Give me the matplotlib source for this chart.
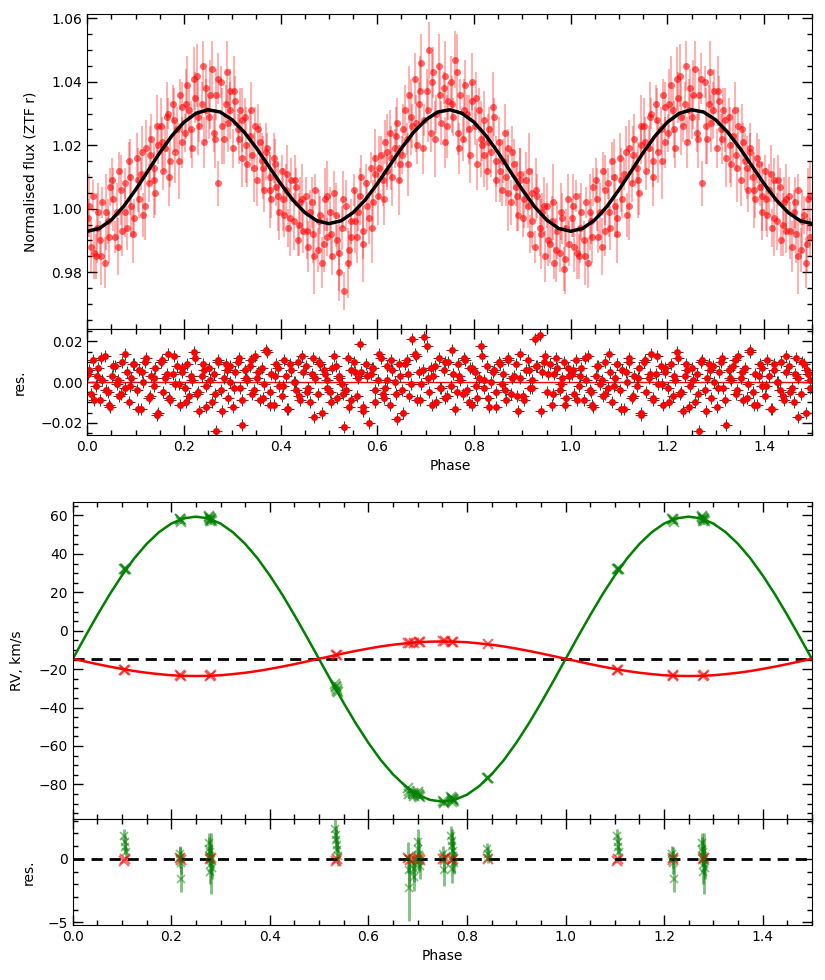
import numpy as np
import matplotlib.pyplot as plt
from matplotlib.ticker import MultipleLocator

# ---- light curve (ZTF r), phases 0..1, repeated up to 1.5 when drawn ----
lc_phase = [
    .002, .007, .012, .017, .022, .027, .031, .036, .042, .047,
    .052, .057, .061, .066, .072, .077, .082, .086, .091, .096,
    .102, .106, .111, .116, .121, .127, .132, .137, .141, .146,
    .152, .156, .161, .167, .171, .177, .181, .186, .191, .196,
    .202, .207, .211, .216, .222, .227, .232, .237, .241, .246,
    .252, .257, .262, .266, .271, .277, .282, .286, .291, .296,
    .302, .306, .311, .316, .321, .327, .331, .336, .341, .346,
    .352, .357, .361, .366, .371, .377, .381, .386, .391, .396,
    .402, .407, .411, .416, .421, .427, .432, .436, .441, .446,
    .452, .457, .461, .466, .471, .477, .482, .486, .491, .496,
    .502, .506, .511, .516, .521, .527, .531, .536, .541, .546,
    .552, .557, .561, .566, .571, .577, .582, .586, .591, .596,
    .602, .607, .611, .616, .621, .627, .631, .636, .641, .646,
    .652, .657, .661, .666, .671, .677, .682, .686, .691, .696,
    .702, .707, .711, .716, .721, .727, .732, .737, .741, .746,
    .752, .757, .761, .766, .771, .777, .782, .786, .791, .796,
    .802, .807, .811, .816, .821, .827, .831, .836, .841, .846,
    .852, .857, .861, .866, .871, .877, .882, .886, .891, .896,
    .902, .907, .911, .916, .921, .927, .931, .936, .941, .946,
    .952, .957, .961, .966, .971, .977, .982, .986, .991, .996,
    .004, .014, .020, .029, .039, .045, .054, .064, .070, .079,
    .089, .095, .104, .114, .120, .129, .139, .145, .154, .164,
    .170, .179, .189, .195, .204, .214, .220, .229, .239, .245,
    .254, .264, .270, .279, .289, .295, .304, .314, .320, .329,
    .339, .345, .354, .364, .370, .379, .389, .395, .404, .414,
    .420, .429, .439, .445, .454, .464, .470, .479, .489, .495,
    .504, .514, .520, .529, .539, .545, .554, .564, .570, .579,
    .589, .595, .604, .614, .620, .629, .639, .645, .654, .664,
    .670, .679, .689, .695, .704, .714, .720, .729, .739, .745,
    .754, .764, .770, .779, .789, .795, .804, .814, .820, .829,
    .839, .845, .854, .864, .870, .879, .889, .895, .904, .914,
    .920, .929, .939, .945, .954, .964, .970, .979, .989, .995,
]
lc_flux = [
    .997, .988, 1.004, .985, .999, .990, 1.002, .983, .996, 1.007,
    1.009, .991, .999, 1.012, .993, 1.008, .994, 1.015, 1.001, .997,
    1.016, 1.003, 1.011, .998, 1.019, 1.008, 1.022, 1.013, 1.005, 1.020,
    1.026, 1.012, 1.019, 1.030, 1.015, 1.033, 1.018, 1.025, 1.036, 1.021,
    1.024, 1.039, 1.031, 1.019, 1.035, 1.042, 1.026, 1.033, 1.021, 1.038,
    1.029, 1.044, 1.024, 1.036, 1.008, 1.040, 1.022, 1.033, 1.027, 1.037,
    1.019, 1.034, 1.025, 1.031, 1.016, 1.029, 1.014, 1.023, 1.017, 1.026,
    1.009, 1.021, 1.015, 1.006, 1.019, 1.010, 1.003, 1.016, 1.007, .999,
    1.012, .998, 1.006, .994, 1.009, .996, 1.007, .990, 1.002, .993,
    1.004, .988, .999, .992, 1.006, .987, .998, .983, 1.003, .991,
    .999, .985, 1.005, .990, .980, .994, .974, 1.001, .987, .996,
    1.006, .991, .999, 1.010, .993, 1.008, .997, 1.013, 1.002, 1.011,
    1.004, 1.017, 1.009, 1.021, 1.012, 1.024, 1.010, 1.019, 1.027, 1.014,
    1.017, 1.031, 1.022, 1.036, 1.026, 1.041, 1.020, 1.033, 1.046, 1.028,
    1.037, 1.050, 1.024, 1.043, 1.030, 1.045, 1.027, 1.038, 1.021, 1.034,
    1.040, 1.029, 1.047, 1.024, 1.036, 1.022, 1.039, 1.030, 1.017, 1.034,
    1.026, 1.014, 1.031, 1.020, 1.028, 1.012, 1.025, 1.018, 1.029, 1.009,
    1.021, 1.006, 1.015, 1.010, 1.019, 1.002, 1.014, 1.007, .998, 1.011,
    .997, 1.009, 1.001, .992, 1.005, .988, 1.004, .994, .999, .985,
    1.001, .989, .996, .983, .993, .986, .997, .981, .994, .989,
    1.001, .986, .994, .985, .999, .991, 1.003, .988, 1.006, .999,
    1.010, .992, 1.009, 1.018, 1.001, 1.017, 1.009, 1.026, 1.021, 1.029,
    1.010, 1.028, 1.015, 1.032, 1.033, 1.025, 1.041, 1.029, 1.045, 1.031,
    1.036, 1.022, 1.041, 1.026, 1.043, 1.031, 1.037, 1.022, 1.028, 1.020,
    1.031, 1.013, 1.025, 1.013, 1.018, 1.006, 1.014, 1.004, 1.003, 1.011,
    .997, 1.009, .995, 1.003, .993, 1.002, .985, .996, .989, 1.004,
    .992, .998, .986, 1.003, .983, .991, .996, 1.004, .989, 1.001,
    .994, 1.016, 1.013, 1.003, 1.018, 1.016, 1.023, 1.009, 1.025, 1.014,
    1.029, 1.027, 1.037, 1.019, 1.031, 1.040, 1.022, 1.036, 1.042, 1.026,
    1.033, 1.043, 1.019, 1.031, 1.025, 1.040, 1.035, 1.022, 1.017, 1.021,
    1.032, 1.015, 1.012, 1.024, 1.005, 1.018, 1.004, 1.009, 1.003, 1.012,
    .996, 1.006, .992, 1.001, .990, 1.002, .987, .999, .984, 1.003,
]
lc_err = [
    .006, .008, .005, .007, .009, .006, .005, .008, .007, .006,
    .007, .005, .009, .006, .008, .005, .007, .006, .010, .006,
    .008, .006, .005, .007, .009, .006, .008, .005, .007, .006,
    .009, .006, .007, .005, .008, .006, .010, .007, .005, .008,
    .006, .009, .007, .006, .008, .010, .005, .007, .008, .006,
    .007, .009, .006, .008, .007, .005, .008, .006, .009, .007,
    .006, .008, .005, .007, .009, .006, .007, .008, .005, .006,
    .008, .006, .009, .007, .005, .007, .006, .008, .006, .009,
    .005, .007, .008, .006, .007, .009, .006, .005, .008, .007,
    .006, .008, .007, .009, .005, .007, .006, .008, .010, .006,
    .008, .006, .007, .005, .009, .007, .006, .008, .006, .007,
    .005, .008, .006, .007, .009, .006, .008, .005, .007, .006,
    .009, .006, .008, .007, .005, .007, .009, .006, .008, .006,
    .006, .008, .005, .009, .007, .008, .006, .007, .009, .005,
    .007, .009, .006, .008, .006, .010, .007, .005, .008, .006,
    .008, .006, .009, .007, .005, .007, .008, .006, .009, .006,
    .006, .008, .007, .005, .009, .006, .007, .008, .006, .007,
    .008, .005, .007, .009, .006, .007, .008, .006, .005, .008,
    .006, .009, .007, .006, .008, .005, .007, .009, .006, .008,
    .007, .006, .008, .005, .009, .006, .008, .007, .006, .007,
    .010, .008, .011, .009, .012, .008, .010, .009, .011, .008,
    .012, .009, .010, .008, .011, .009, .012, .010, .008, .011,
    .009, .010, .012, .008, .011, .009, .010, .012, .008, .010,
    .011, .009, .008, .012, .010, .009, .011, .008, .010, .012,
    .009, .011, .008, .010, .009, .012, .008, .011, .010, .009,
    .012, .008, .010, .011, .009, .008, .012, .010, .009, .011,
    .008, .010, .012, .009, .011, .008, .010, .009, .012, .008,
    .011, .009, .010, .008, .012, .010, .009, .011, .008, .010,
    .012, .009, .011, .008, .010, .009, .012, .008, .011, .010,
    .009, .012, .008, .010, .011, .009, .008, .012, .010, .009,
    .011, .008, .010, .009, .012, .008, .011, .010, .009, .012,
    .008, .010, .011, .009, .008, .012, .010, .009, .011, .008,
]
lc_res = [
    .004, -.006, .011, -.002, .007, -.009, .001, .013, -.005, -.012,
    .003, .008, -.001, -.007, .010, -.003, .005, -.010, .002, .009,
    -.004, .006, -.013, .000, .012, -.008, .003, -.002, .007, -.015,
    .010, -.005, .002, .014, -.009, .004, -.001, .008, -.011, .005,
    -.003, .009, -.007, .001, .012, -.006, -.014, .003, .006, -.002,
    .007, -.010, .004, -.024, .011, -.004, .002, .009, -.008, .000,
    -.012, .005, .010, -.003, -.021, .006, .001, .008, -.006, .013,
    .002, -.009, .007, -.001, .015, -.005, .004, -.011, .009, -.002,
    -.007, .011, .003, -.013, .006, .000, -.004, .010, -.009, .005,
    .008, -.003, -.010, .012, .002, -.006, .009, -.015, .004, .001,
    -.005, .007, .013, -.008, .003, -.001, -.022, -.004, -.012, .006,
    .010, -.007, .002, .005, -.014, .009, -.020, .004, .007, -.010,
    .001, .012, -.006, -.003, .008, -.011, .006, .000, -.018, .003,
    -.004, .009, .011, -.007, .021, .014, -.009, .005, -.001, .022,
    .018, -.005, .007, .003, -.010, .012, -.003, .006, -.008, .010,
    -.002, .004, -.013, .009, .001, -.006, .011, -.004, .007, -.011,
    .005, -.008, .002, .013, -.003, .008, -.012, .000, .006, -.005,
    .010, -.001, .004, -.009, .012, -.006, .003, .009, -.014, .002,
    -.007, .006, .011, -.003, .001, .021, .008, .023, .005, .013,
    -.005, .009, -.011, .004, .007, -.004, .002, .010, -.008, .003,
    .006, -.009, .003, .012, -.004, -.011, .008, .001, -.006, .014,
    -.002, .009, -.013, .005, .010, -.007, .002, -.016, .011, .004,
    -.008, .013, -.001, .007, -.010, .003, .015, -.005, .009, -.012,
    .001, -.006, .010, -.014, .006, .008, -.003, .012, -.009, .002,
    .011, -.004, .005, -.008, .016, -.011, .003, .007, -.002, -.013,
    .009, .000, -.007, .013, -.005, .004, -.017, .010, .006, -.003,
    -.010, .008, .002, -.006, .012, -.009, .005, .019, -.012, .003,
    .007, -.004, .014, -.008, .001, .011, -.006, .009, -.015, .004,
    -.001, .013, -.009, .006, .002, -.011, .008, -.003, .010, -.007,
    .016, -.005, .003, .012, -.010, .007, -.002, .018, .001, -.008,
    .005, -.012, .009, -.004, .011, .002, -.007, .014, -.009, .006,
    -.003, .008, -.014, .010, .004, -.006, .012, -.001, -.011, .007,
]

# light-curve model, read at 0.025 steps over one cycle
lc_model_phase = [i * 0.025 for i in range(41)]
lc_model_flux = [
    .9929, .9938, .9965, 1.0007, 1.0060, 1.0118, 1.0177, 1.0230, 1.0273, 1.0301,
    1.0312, 1.0305, 1.0280, 1.0241, 1.0191, 1.0135, 1.0079, 1.0028, .9988, .9962,
    .9953, .9962, .9988, 1.0028, 1.0079, 1.0135, 1.0191, 1.0241, 1.0280, 1.0305,
    1.0312, 1.0301, 1.0273, 1.0230, 1.0177, 1.0118, 1.0060, 1.0007, .9965, .9938,
    .9929,
]

# ---- radial velocities ----
rv_gamma = -14.6
rv_model_phase = [i * 0.025 for i in range(41)]
rv_model_green = [
    -14.8, -3.2, 8.1, 18.9, 28.8, 37.7, 45.2, 51.3, 55.8, 58.5,
    59.4, 58.5, 55.8, 51.3, 45.2, 37.7, 28.8, 18.9, 8.1, -3.2,
    -14.8, -26.4, -37.7, -48.5, -58.4, -67.3, -74.8, -80.9, -85.4, -88.1,
    -89.0, -88.1, -85.4, -80.9, -74.8, -67.3, -58.4, -48.5, -37.7, -26.4,
    -14.8,
]
rv_model_red = [
    -14.6, -16.0, -17.4, -18.7, -19.9, -21.0, -21.9, -22.6, -23.2, -23.5,
    -23.6, -23.5, -23.2, -22.6, -21.9, -21.0, -19.9, -18.7, -17.4, -16.0,
    -14.6, -13.2, -11.8, -10.5, -9.3, -8.2, -7.3, -6.6, -6.0, -5.7,
    -5.6, -5.7, -6.0, -6.6, -7.3, -8.2, -9.3, -10.5, -11.8, -13.2,
    -14.6,
]

green_phase = [
    .104, .106, .107, .108, .217, .218, .219, .220,
    .276, .277, .278, .279, .280, .281, .282, .279,
    .533, .534, .535, .536, .537, .538, .681, .682, .683,
    .691, .692, .693, .700, .701, .702, .703, .704,
    .752, .753, .754, .768, .769, .770, .771, .772, .773, .770,
    .841, .842, .843,
]
green_rv = [
    32.1, 32.3, 32.3, 32.3, 58.2, 58.0, 57.7, 56.5,
    59.6, 59.1, 58.7, 58.3, 58.0, 57.6, 57.2, 57.1,
    -27.8, -28.6, -29.5, -30.3, -31.2, -32.1, -81.9, -83.3, -84.9,
    -84.3, -85.0, -85.9, -84.1, -84.8, -85.5, -86.1, -86.7,
    -88.6, -89.2, -89.9, -86.7, -87.1, -87.4, -87.8, -88.1, -88.5, -89.2,
    -76.5, -76.6, -76.5,
]
green_err = [
    .5, .6, .5, .4, .6, .8, .9, 1.0,
    .8, .9, 1.0, .8, 1.1, 2.4, .9, 1.0,
    .9, .7, .8, .6, .7, .8, 1.2, 1.3, 2.6,
    .9, 1.0, 1.1, 1.0, .9, 1.2, .8, 1.0,
    .6, .8, 1.2, .8, .9, 1.1, 1.0, 1.2, .9, 1.1,
    .4, .5, .4,
]
green_res = [
    1.8, 1.3, .9, .5, .4, .1, -.3, -1.6,
    1.2, .8, .5, .2, -.1, -.4, -.7, -1.0,
    2.3, 1.9, 1.5, 1.1, .7, .2, .1, -.9, -2.3,
    -.3, -.8, -1.4, 1.3, .8, .3, -.2, -.6,
    .4, -.2, -.9, 1.8, 1.4, 1.0, .6, .2, -.3, -.8,
    .8, .4, .1,
]

red_phase = [
    .105, .107, .218, .219, .278, .280, .535, .537, .681,
    .684, .692, .702, .704, .752, .755, .769, .771, .842,
]
red_rv = [
    -20.3, -20.2, -23.3, -23.5, -23.5, -23.3, -12.8, -12.5, -6.3,
    -6.4, -6.2, -5.9, -6.1, -5.6, -5.5, -5.8, -5.7, -7.1,
]
red_err = [.2] * len(red_phase)
red_res = [
    -.2, .0, .1, -.1, .0, .1, -.2, .0, .1,
    -.1, .0, .1, -.1, .0, .1, -.1, .0, .0,
]


def extend(phase, *cols):
    # show phases 0..1.5: repeat the first half cycle after phase 1
    phase = np.asarray(phase, dtype=float)
    keep = phase <= 0.5
    out = [np.concatenate([phase, phase[keep] + 1.0])]
    for c in cols:
        c = np.asarray(c, dtype=float)
        out.append(np.concatenate([c, c[keep]]))
    return out


def style(ax, xmaj, xmin, ymaj, ymin):
    ax.xaxis.set_major_locator(MultipleLocator(xmaj))
    ax.xaxis.set_minor_locator(MultipleLocator(xmin))
    ax.yaxis.set_major_locator(MultipleLocator(ymaj))
    ax.yaxis.set_minor_locator(MultipleLocator(ymin))
    ax.tick_params(which='both', direction='in', top=True, right=True, labelsize=10)
    ax.tick_params(which='major', length=7, width=1)
    ax.tick_params(which='minor', length=3.5, width=1)
    ax.set_xlim(0, 1.5)


fig = plt.figure(figsize=(8.25, 9.8), dpi=100)

# light curve
ax_lc = fig.add_axes([0.1058, 0.6640, 0.8789, 0.3214])
ax_lr = fig.add_axes([0.1058, 0.5561, 0.8789, 0.1079])

ph, fl, er, rs = extend(lc_phase, lc_flux, lc_err, lc_res)
mph, mfl = extend(lc_model_phase[:-1], lc_model_flux[:-1])
order = np.argsort(mph)

ax_lc.errorbar(ph, fl, yerr=er, fmt='none', ecolor='red', elinewidth=1.5, alpha=0.3)
ax_lc.plot(ph, fl, 'o', color='red', ms=5, alpha=0.6, mec='none')
ax_lc.plot(mph[order], mfl[order], '-', color='black', lw=2.5)
style(ax_lc, 0.2, 0.05, 0.02, 0.005)
ax_lc.set_ylim(0.962, 1.0613)
ax_lc.tick_params(labelbottom=False)
ax_lc.set_ylabel('Normalised flux (ZTF r)', fontsize=10)
ax_lc.yaxis.set_label_coords(-0.068, 0.5)

ax_lr.axhline(0, color='red', lw=1)
ax_lr.plot(ph, rs, '+', color='0.25', ms=8, mew=0.8)
ax_lr.plot(ph, rs, 'o', color='red', ms=5, mec='none')
style(ax_lr, 0.2, 0.05, 0.02, 0.005)
ax_lr.set_ylim(-0.026, 0.026)
ax_lr.set_ylabel('res.', fontsize=10)
ax_lr.yaxis.set_label_coords(-0.083, 0.5)
ax_lr.set_xlabel('Phase', fontsize=10)

# radial velocities
ax_rv = fig.add_axes([0.0881, 0.1640, 0.8961, 0.3235])
ax_rr = fig.add_axes([0.0881, 0.0561, 0.8961, 0.1079])

rph, rg, rr = extend(rv_model_phase[:-1], rv_model_green[:-1], rv_model_red[:-1])
order = np.argsort(rph)
rph, rg, rr = rph[order], rg[order], rr[order]
rph = np.append(rph, 1.5)
rg = np.append(rg, rv_model_green[20])
rr = np.append(rr, rv_model_red[20])

gph, grv, gerr, gres = extend(green_phase, green_rv, green_err, green_res)
kph, krv, kerr, kres = extend(red_phase, red_rv, red_err, red_res)

ax_rv.axhline(rv_gamma, color='black', ls='--', lw=2, dashes=(4, 2.5))
ax_rv.plot(rph, rg, '-', color='green', lw=1.8)
ax_rv.plot(rph, rr, '-', color='red', lw=1.8)
ax_rv.errorbar(gph, grv, yerr=gerr, fmt='x', color='green', ms=7, mew=1.5, alpha=0.5)
ax_rv.errorbar(kph, krv, yerr=kerr, fmt='x', color='red', ms=7, mew=1.5, alpha=0.6)
style(ax_rv, 0.2, 0.05, 20, 5)
ax_rv.set_ylim(-98.2, 66.9)
ax_rv.tick_params(labelbottom=False)
ax_rv.set_ylabel('RV, km/s', fontsize=10)
ax_rv.yaxis.set_label_coords(-0.066, 0.5)

ax_rr.errorbar(gph, gres, yerr=gerr, fmt='x', color='green', ms=6, mew=1.2,
               elinewidth=2, alpha=0.5)
ax_rr.plot(kph, kres, 'x', color='red', ms=7, mew=1.5, alpha=0.6)
ax_rr.axhline(0, color='black', ls='--', lw=2, dashes=(4, 2.5))
style(ax_rr, 0.2, 0.05, 5, 1)
ax_rr.set_ylim(-5.2, 3.1)
ax_rr.set_ylabel('res.', fontsize=10)
ax_rr.yaxis.set_label_coords(-0.05, 0.5)
ax_rr.set_xlabel('Phase', fontsize=10)

fig.savefig('out.png', dpi=100)
